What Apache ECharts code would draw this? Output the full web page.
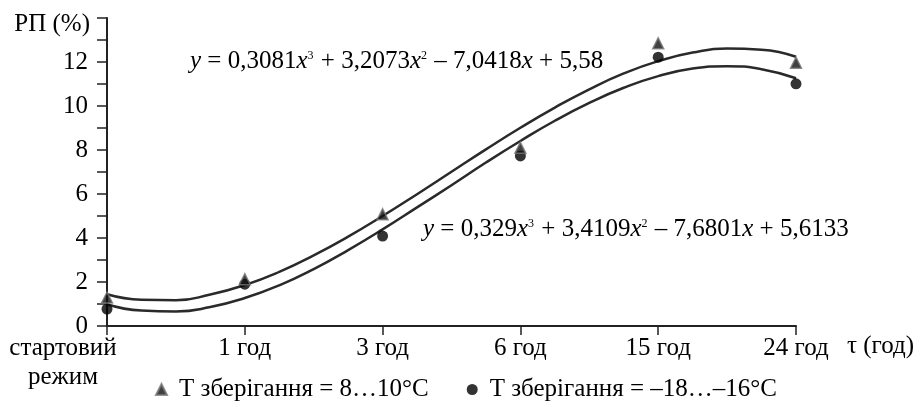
<!DOCTYPE html>
<html>
<head>
<meta charset="utf-8">
<script src="https://cdn.jsdelivr.net/npm/echarts@6/dist/echarts.min.js"></script>
<style>
html,body{margin:0;padding:0;background:#fff;}
#chart{width:918px;height:402px;}
</style>
</head>
<body>
<div id="chart"></div>
<script>
// ---- data ----
const categories = ['стартовий\nрежим', '1 год', '3 год', '6 год', '15 год', '24 год'];
const catPositions = [1, 2, 3, 4, 5, 6];
const yTickLabels = ['0', '2', '4', '6', '8', '10', '12'];
const yAxisTitle = 'РП (%)';
const xAxisTitle = 'τ (год)';

const seriesWarmName = 'T зберігання = 8…10°C';
const seriesColdName = 'T зберігання = –18…–16°C';

const warmValues = [1.29, 2.13, 5.08, 8.1, 12.85, 11.97];
const coldValues = [0.77, 1.9, 4.09, 7.73, 12.22, 11.01];

// trend curves
const trendX = [1, 1.25, 1.5, 1.75, 2, 2.25, 2.5, 2.75, 3, 3.25, 3.5, 3.75, 4, 4.25, 4.5, 4.75, 5, 5.25, 5.5, 5.75, 6];
const warmTrend = [1.44, 1.19, 1.17, 1.43, 1.86, 2.46, 3.21, 4.06, 5.0, 5.99, 7.01, 8.03, 9.01, 9.93, 10.76, 11.48, 12.04, 12.43, 12.61, 12.56, 12.24];
const coldTrend = [0.99, 0.7, 0.66, 0.86, 1.27, 1.85, 2.59, 3.45, 4.39, 5.39, 6.4, 7.43, 8.41, 9.33, 10.14, 10.83, 11.36, 11.7, 11.81, 11.67, 11.26];

const eqWarm = ['y', ' = 0,3081', 'x', '3', ' + 3,2073', 'x', '2', ' – 7,0418', 'x', ' + 5,58'];
const eqCold = ['y', ' = 0,329', 'x', '3', ' + 3,4109', 'x', '2', ' – 7,6801', 'x', ' + 5,6133'];

// ---- build ----
const FONT = 'Liberation Serif';
const FS = 25;
const pair = (xs, ys) => xs.map((x, i) => [x, ys[i]]);

function eqRich(parts) {
  return parts.map(p => {
    if (p === 'x' || p === 'y') return '{i|' + p + '}';
    if (p === '2' || p === '3') return '{s|' + p + '}';
    return '{n|' + p + '}';
  }).join('');
}
const EQ = 25;
const eqRichStyles = {
  n: { fontFamily: FONT, fontSize: EQ, lineHeight: 28, fill: '#000' },
  i: { fontFamily: FONT, fontSize: EQ, lineHeight: 28, fontStyle: 'italic', fill: '#000' },
  s: { fontFamily: FONT, fontSize: 12, lineHeight: 28, verticalAlign: 'top', fill: '#000', padding: [3, 1, 0, 0] }
};

const chart = echarts.init(document.getElementById('chart'), null, { renderer: 'canvas' });
chart.setOption({
  animation: false,
  backgroundColor: '#fff',
  textStyle: { fontFamily: FONT, color: '#000' },
  grid: { left: 107, right: 122, top: 18, bottom: 76, containLabel: false },
  xAxis: {
    type: 'value',
    min: 1, max: 6, interval: 1,
    splitLine: { show: false },
    axisLine: { show: true, lineStyle: { color: '#222', width: 2 } },
    axisTick: { show: true, inside: false, length: 9, lineStyle: { color: '#222', width: 1.5 } },
    axisLabel: {
      margin: 8,
      fontFamily: FONT, fontSize: FS, color: '#000', lineHeight: 29,
      formatter: function (v) {
        const idx = catPositions.indexOf(v);
        if (idx < 0) return '';
        const t = categories[idx];
        if (idx === 0) return t.split('\n').map(s => '{f|' + s + '}').join('\n');
        return t;
      },
      rich: { f: { fontFamily: FONT, fontSize: FS, color: '#000', lineHeight: 29, padding: [0, 88, 0, 0] } }
    }
  },
  yAxis: {
    type: 'value',
    min: 0, max: 14, interval: 1,
    splitLine: { show: false },
    axisLine: { show: true, lineStyle: { color: '#222', width: 2 } },
    axisTick: { show: true, inside: false, length: 10, lineStyle: { color: '#222', width: 1.5 } },
    axisLabel: {
      margin: 19,
      fontFamily: FONT, fontSize: FS, color: '#000',
      formatter: function (v) { const s = String(v); return yTickLabels.indexOf(s) >= 0 ? s : ''; }
    }
  },
  legend: {
    data: [seriesWarmName, seriesColdName],
    left: 155, top: 377, padding: 0,
    itemWidth: 11, itemHeight: 11, itemGap: 38,
    textStyle: { fontFamily: FONT, fontSize: FS, color: '#000', padding: [0, 0, 0, 7] },
    selectedMode: false
  },
  graphic: [
    { type: 'text', left: 190, top: 47, silent: true,
      style: { text: eqRich(eqWarm), rich: eqRichStyles, font: EQ + 'px "' + FONT + '"' } },
    { type: 'text', left: 423, top: 215, silent: true,
      style: { text: eqRich(eqCold), rich: eqRichStyles, font: EQ + 'px "' + FONT + '"' } },
    { type: 'text', right: 918 - 90, top: 12, silent: true,
      style: { text: yAxisTitle, font: FS + 'px "' + FONT + '"', fill: '#000' } },
    { type: 'text', left: 847, top: 334, silent: true,
      style: { text: xAxisTitle, font: FS + 'px "' + FONT + '"', fill: '#000' } }
  ],
  series: [
    { type: 'line', name: 'trendWarm', data: pair(trendX, warmTrend), smooth: true, showSymbol: false,
      lineStyle: { color: '#2a2a2a', width: 2.5 }, z: 2, silent: true },
    { type: 'line', name: 'trendCold', data: pair(trendX, coldTrend), smooth: true, showSymbol: false,
      lineStyle: { color: '#2a2a2a', width: 2.5 }, z: 2, silent: true },
    { type: 'scatter', name: seriesWarmName, data: pair(catPositions, warmValues), symbol: 'triangle', symbolSize: 11,
      itemStyle: { color: '#111', borderColor: '#777', borderWidth: 1.5 }, z: 5 },
    { type: 'scatter', name: seriesColdName, data: pair(catPositions, coldValues), symbol: 'circle', symbolSize: 11,
      itemStyle: { color: '#000' }, z: 4 }
  ]
});
</script>
</body>
</html>
